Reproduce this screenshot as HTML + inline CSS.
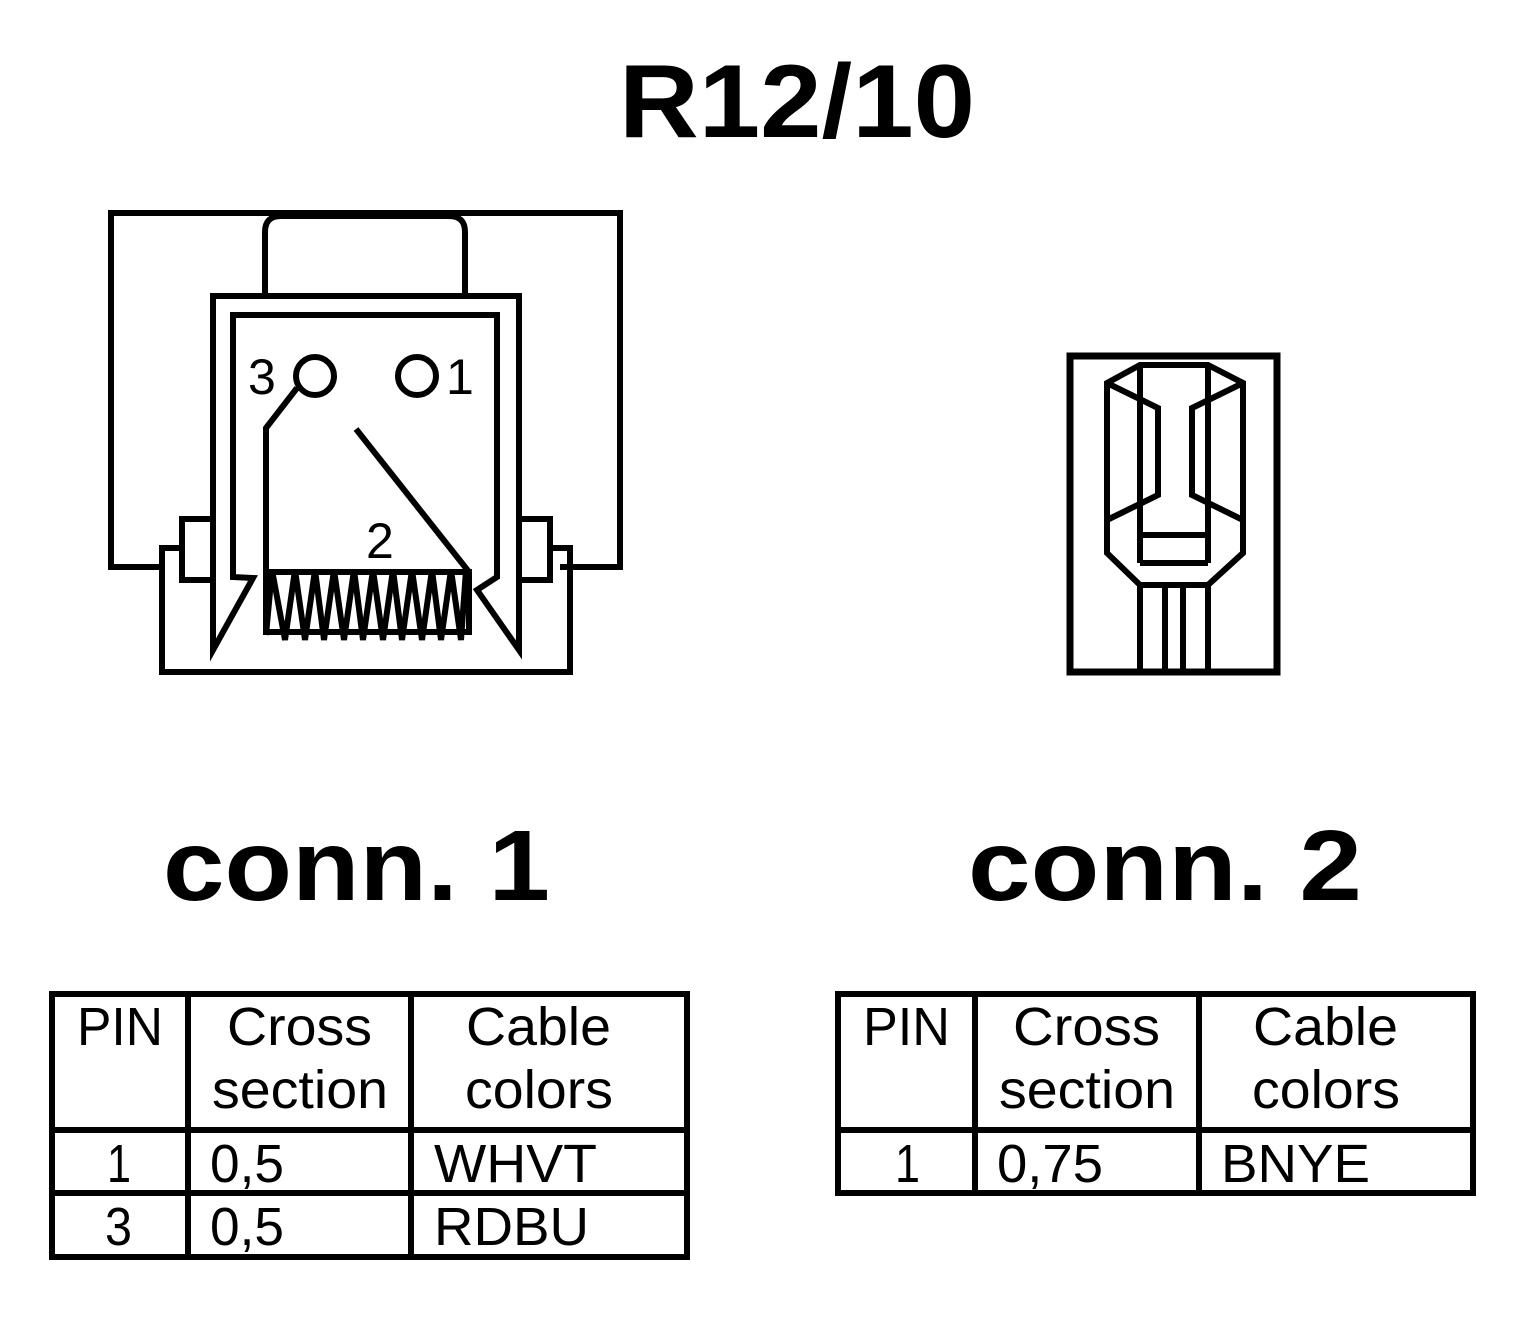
<!DOCTYPE html>
<html><head><meta charset="utf-8"><style>html,body{margin:0;padding:0;background:#fff}svg{display:block}</style></head>
<body>
<svg width="1536" height="1320" viewBox="0 0 1536 1320" xmlns="http://www.w3.org/2000/svg" font-family="Liberation Sans, Arial, sans-serif">
<rect width="1536" height="1320" fill="#fff"/>
<text x="797" y="137" font-size="104" font-weight="bold" text-anchor="middle" textLength="356" lengthAdjust="spacingAndGlyphs">R12/10</text>
<g fill="none" stroke="#000" stroke-width="6" stroke-linejoin="miter">
<polyline points="165,567 111,567 111,213 620,213 620,567 560,567"/>
<path d="M265,296 L265,232 Q265,216 281,216 L449,216 Q465,216 465,232 L465,296"/>
<path d="M233,577 L253,578 L213,650 L213,296 L519,296 L519,650 L477,590 L497,577 L497,315 L233,315 Z"/>
<rect x="182" y="519" width="31" height="61"/>
<rect x="519" y="519" width="31" height="61"/>
<polyline points="182,548 162,548 162,672 570,672 570,548 550,548"/>
<circle cx="315" cy="376" r="19"/>
<circle cx="417" cy="376" r="19"/>
<polyline points="297,388 266,428 266,632 469,632 469,572 266,572"/>
<line x1="356" y1="429" x2="469" y2="572"/>
<polyline points="266,635 272,570 285,640 295,570 305,640 315,570 324,640 334,570 344,640 354,570 363,640 373,570 383,640 393,570 402,640 412,570 422,640 432,570 441,640 451,570 461,640 466,570"/>
<rect x="1070" y="356" width="207" height="316" stroke-width="7"/>
<polygon points="1107,383 1140,365 1208,365 1243,383 1243,553 1208,585 1140,585 1107,553"/>
<polyline points="1107,383 1158,408 1158,495 1107,520"/>
<polyline points="1243,383 1192,408 1192,495 1243,520"/>
<line x1="1140" y1="365" x2="1140" y2="563"/>
<line x1="1208" y1="365" x2="1208" y2="563"/>
<line x1="1140" y1="563" x2="1208" y2="563"/>
<line x1="1140" y1="535" x2="1208" y2="535"/>
<line x1="1140" y1="585" x2="1140" y2="672"/>
<line x1="1165" y1="585" x2="1165" y2="672"/>
<line x1="1183" y1="585" x2="1183" y2="672"/>
<line x1="1208" y1="585" x2="1208" y2="672"/>
<rect x="52" y="994" width="635" height="263"/>
<line x1="188" y1="994" x2="188" y2="1257"/>
<line x1="411" y1="994" x2="411" y2="1257"/>
<line x1="52" y1="1130" x2="687" y2="1130"/>
<line x1="52" y1="1193" x2="687" y2="1193"/>
<rect x="838" y="994" width="635" height="199"/>
<line x1="975" y1="994" x2="975" y2="1193"/>
<line x1="1199" y1="994" x2="1199" y2="1193"/>
<line x1="838" y1="1130" x2="1473" y2="1130"/>
</g>
<g font-size="50">
<text x="248" y="394">3</text>
<text x="446" y="394">1</text>
<text x="366" y="558">2</text>
</g>
<text x="163" y="900" font-size="100" font-weight="bold" textLength="387" lengthAdjust="spacingAndGlyphs">conn. 1</text>
<text x="968" y="900" font-size="100" font-weight="bold" textLength="394" lengthAdjust="spacingAndGlyphs">conn. 2</text>
<g font-size="54">
<text x="77" y="1045" textLength="86" lengthAdjust="spacingAndGlyphs">PIN</text>
<text x="227" y="1045" textLength="145" lengthAdjust="spacingAndGlyphs">Cross</text>
<text x="212" y="1108" textLength="176" lengthAdjust="spacingAndGlyphs">section</text>
<text x="466" y="1045" textLength="145" lengthAdjust="spacingAndGlyphs">Cable</text>
<text x="465" y="1108" textLength="148" lengthAdjust="spacingAndGlyphs">colors</text>
<text x="107" y="1182" textLength="24" lengthAdjust="spacingAndGlyphs">1</text>
<text x="210" y="1182" textLength="74" lengthAdjust="spacingAndGlyphs">0,5</text>
<text x="434" y="1182" textLength="163" lengthAdjust="spacingAndGlyphs">WHVT</text>
<text x="105" y="1245" textLength="27" lengthAdjust="spacingAndGlyphs">3</text>
<text x="210" y="1245" textLength="74" lengthAdjust="spacingAndGlyphs">0,5</text>
<text x="434" y="1245" textLength="155" lengthAdjust="spacingAndGlyphs">RDBU</text>
<text x="863" y="1045" textLength="87" lengthAdjust="spacingAndGlyphs">PIN</text>
<text x="1013" y="1045" textLength="147" lengthAdjust="spacingAndGlyphs">Cross</text>
<text x="999" y="1108" textLength="176" lengthAdjust="spacingAndGlyphs">section</text>
<text x="1253" y="1045" textLength="145" lengthAdjust="spacingAndGlyphs">Cable</text>
<text x="1252" y="1108" textLength="148" lengthAdjust="spacingAndGlyphs">colors</text>
<text x="895" y="1182" textLength="25" lengthAdjust="spacingAndGlyphs">1</text>
<text x="997" y="1182" textLength="106" lengthAdjust="spacingAndGlyphs">0,75</text>
<text x="1221" y="1182" textLength="149" lengthAdjust="spacingAndGlyphs">BNYE</text>
</g>
</svg>
</body></html>
